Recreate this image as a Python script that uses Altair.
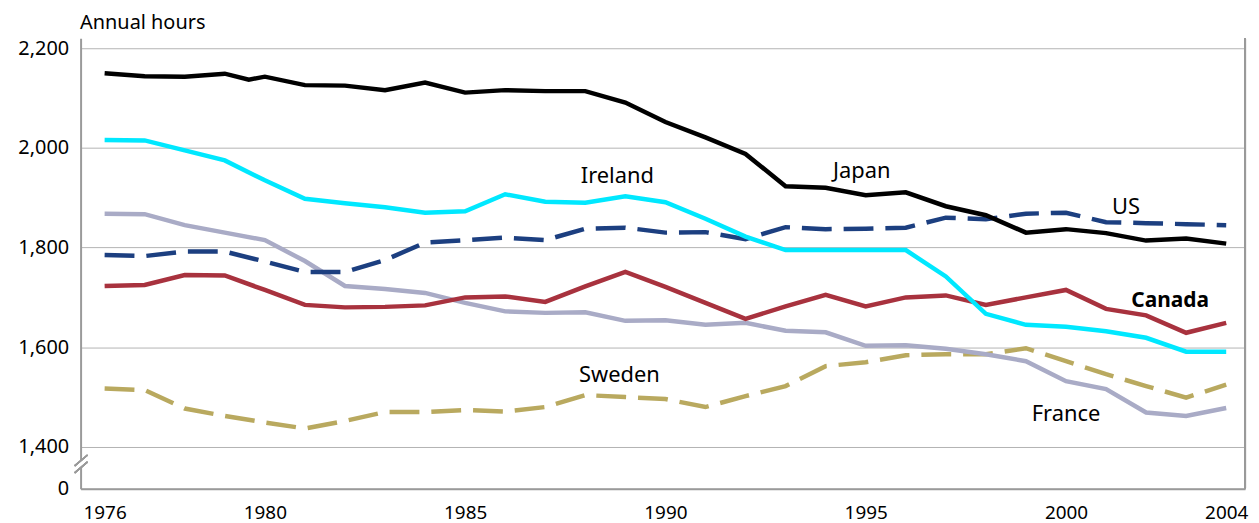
import altair as alt
import pandas as pd

# ---- data ----
years = list(range(1976, 2005))
japan_years = [1976, 1977, 1978, 1979, 1979.6] + list(range(1980, 2005))

japan = [2150, 2144, 2143, 2149, 2137, 2143, 2126, 2125, 2116, 2131, 2111, 2116, 2114, 2114,
         2091, 2052, 2021, 1988, 1923, 1920, 1905, 1911, 1883, 1865, 1830, 1837, 1829, 1814,
         1818, 1808]
us = [1785, 1783, 1792, 1792, 1772, 1751, 1751, 1775, 1810, 1815, 1820, 1815, 1838, 1840,
      1830, 1831, 1817, 1841, 1837, 1838, 1840, 1860, 1857, 1868, 1870, 1851, 1849, 1847, 1845]
ireland = [2016, 2015, 1995, 1975, 1935, 1898, 1889, 1881, 1870, 1873, 1907, 1892, 1890, 1903,
           1891, 1858, 1822, 1795, 1795, 1795, 1795, 1742, 1667, 1645, 1641, 1632, 1619, 1591, 1591]
france = [1868, 1867, 1845, 1830, 1815, 1773, 1723, 1717, 1709, 1689, 1672, 1669, 1670, 1653,
          1654, 1645, 1649, 1633, 1630, 1603, 1604, 1597, 1586, 1572, 1532, 1516, 1469, 1462, 1478]
canada = [1723, 1725, 1745, 1744, 1715, 1685, 1680, 1681, 1684, 1700, 1702, 1691, 1722, 1751,
          1721, 1689, 1657, 1682, 1705, 1682, 1700, 1704, 1685, 1700, 1715, 1677, 1664, 1629, 1649]
sweden = [1517, 1514, 1477, 1462, 1449, 1437, 1452, 1470, 1470, 1474, 1471, 1480, 1504, 1500,
          1496, 1480, 1502, 1522, 1562, 1570, 1584, 1586, 1586, 1598, 1572, 1546, 1522, 1499, 1525]

label_names = ["Ireland", "Japan", "US", "Sweden", "France"]
label_x = [1988.8, 1994.9, 2001.5, 1988.85, 2000.0]
label_y = [1930, 1940, 1868, 1530, 1452]
bold_names = ["Canada"]
bold_x = [2002.6]
bold_y = [1680]

x_ticks = [1976, 1980, 1985, 1990, 1995, 2000, 2004]
y_ticks = [1316, 1400, 1600, 1800, 2000, 2200]

# ---- chart ----
W, H = 1171, 453
FONT = "Noto Sans"
GRID = "#b3b3b3"
AXIS = "#9a9a9a"

xs = alt.Scale(domain=[1975.4, 2004.47], nice=False, zero=False)
ys = alt.Scale(domain=[1316, 2220], nice=False, zero=False)

x_axis = alt.Axis(values=x_ticks, format="d", grid=False, ticks=False, domainColor=AXIS,
                  domainWidth=2, labelFontSize=19, labelColor="black", labelPadding=15,
                  labelFlush=False, title=None, labelFont=FONT)
y_axis = alt.Axis(values=y_ticks,
                  labelExpr="datum.value == 1316 ? '0' : format(datum.value, ',')",
                  grid=True, gridColor=GRID, gridWidth=1, ticks=False, domainColor=AXIS,
                  domainWidth=2, labelFontSize=20, labelColor="black", labelPadding=12,
                  labelFlush=False, labelFont=FONT,
                  title="Annual hours", titleAngle=0, titleAlign="left",
                  titleBaseline="alphabetic", titleX=-1, titleY=-10, titleFontSize=20,
                  titleFontWeight="normal", titleColor="black", titleFont=FONT)

series = [
    ("Sweden", years, sweden, "#b9a95f", [30, 12]),
    ("France", years, france, "#a9abc6", None),
    ("Canada", years, canada, "#a8323e", None),
    ("US", years, us, "#1c3f80", [30, 12]),
    ("Ireland", years, ireland, "#00e8ff", None),
    ("Japan", japan_years, japan, "#000000", None),
]

layers = []
for name, xv, vv, col, dash in series:
    d = pd.DataFrame({"year": xv, "hours": vv})
    kw = dict(color=col, strokeWidth=4.5)
    if dash:
        kw["strokeDash"] = dash
    layers.append(
        alt.Chart(d).mark_line(**kw).encode(
            x=alt.X("year:Q", scale=xs, axis=x_axis),
            y=alt.Y("hours:Q", scale=ys, axis=y_axis),
        )
    )

lab = pd.DataFrame({"name": label_names, "x": label_x, "y": label_y})
blab = pd.DataFrame({"name": bold_names, "x": bold_x, "y": bold_y})
layers.append(
    alt.Chart(lab).mark_text(font=FONT, fontSize=22, color="black", align="center",
                             baseline="alphabetic").encode(
        x=alt.X("x:Q", scale=xs, axis=x_axis), y=alt.Y("y:Q", scale=ys, axis=y_axis),
        text="name:N")
)
layers.append(
    alt.Chart(blab).mark_text(font=FONT, fontSize=21, fontWeight="bold", color="black",
                              align="center", baseline="alphabetic").encode(
        x=alt.X("x:Q", scale=xs, axis=x_axis), y=alt.Y("y:Q", scale=ys, axis=y_axis),
        text="name:N")
)

# right frame line
layers.append(alt.Chart(lab).mark_rule(color=AXIS, strokeWidth=2).encode(
    x=alt.value(W), y=alt.value(0), y2=alt.value(H)))
# axis break
layers.append(alt.Chart(lab).mark_rect(color="white").encode(
    x=alt.value(-3), x2=alt.value(3), y=alt.value(425), y2=alt.value(431)))
layers.append(alt.Chart(lab).mark_rule(color=AXIS, strokeWidth=1.5).encode(
    x=alt.value(-6), x2=alt.value(7), y=alt.value(430), y2=alt.value(419)))
layers.append(alt.Chart(lab).mark_rule(color=AXIS, strokeWidth=1.5).encode(
    x=alt.value(-6), x2=alt.value(7), y=alt.value(437), y2=alt.value(426)))

chart = alt.layer(*layers).properties(
    width=W, height=H,
    autosize=alt.AutoSizeParams(type="none"),
    padding={"left": 73, "top": 29, "right": 6, "bottom": 40},
).configure_view(stroke=None)

chart.save("out.html", embed_options={"renderer": "svg", "actions": False})
